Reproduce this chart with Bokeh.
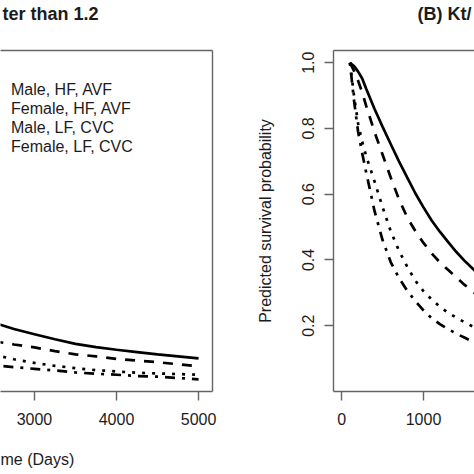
from bokeh.plotting import figure
from bokeh.models import Range1d, LinearAxis, FixedTicker, Legend, LegendItem, Title, Grid
from bokeh.layouts import row
from bokeh.embed import file_html
from bokeh.resources import INLINE

# ---------------- data ----------------
series_labels = ["Male, HF, AVF", "Female, HF, AVF", "Male, LF, CVC", "Female, LF, CVC"]
# only the parts of the titles / x label that are inside the cropped picture
title_a_visible = "ter than 1.2"
title_b_visible = "(B) Kt/"
x_title_a_visible = "me (Days)"
y_title = "Predicted survival probability"

x_ticks = [0, 1000, 2000, 3000, 4000, 5000]
x_tick_labels = ["0", "1000", "2000", "3000", "4000", "5000"]
y_ticks = [0.2, 0.4, 0.6, 0.8, 1.0]
y_tick_labels = ["0.2", "0.4", "0.6", "0.8", "1.0"]

# Panel A (Kt/V > 1.2), visible tail
days_a = [2500, 2750, 3000, 3250, 3500, 3750, 4000, 4250, 4500, 4750, 5000]
a_male_hf_avf = [0.210, 0.190, 0.174, 0.159, 0.145, 0.135, 0.127, 0.120, 0.113, 0.107, 0.101]
a_female_hf_avf = [0.153, 0.143, 0.134, 0.123, 0.113, 0.107, 0.099, 0.094, 0.089, 0.083, 0.077]
a_male_lf_cvc = [0.112, 0.098, 0.087, 0.078, 0.071, 0.065, 0.061, 0.057, 0.055, 0.053, 0.051]
a_female_lf_cvc = [0.080, 0.074, 0.069, 0.064, 0.058, 0.054, 0.051, 0.047, 0.045, 0.041, 0.037]

# Panel B (Kt/V <= 1.2), visible head
days_b = [100, 150, 200, 250, 300, 400, 500, 600, 700, 800, 900, 1000, 1100, 1200, 1300, 1400, 1500, 1600, 1700]
b_male_hf_avf = [1.0, 0.990, 0.973, 0.952, 0.920, 0.860, 0.805, 0.752, 0.700, 0.651, 0.603, 0.560, 0.520, 0.486, 0.455, 0.425, 0.398, 0.374, 0.350]
b_female_hf_avf = [1.0, 0.975, 0.945, 0.910, 0.868, 0.790, 0.720, 0.650, 0.585, 0.530, 0.488, 0.452, 0.420, 0.393, 0.370, 0.348, 0.325, 0.305, 0.285]
b_male_lf_cvc = [1.0, 0.900, 0.815, 0.760, 0.715, 0.640, 0.560, 0.487, 0.428, 0.380, 0.337, 0.305, 0.280, 0.258, 0.240, 0.225, 0.211, 0.198, 0.186]
b_female_lf_cvc = [1.0, 0.885, 0.790, 0.725, 0.665, 0.550, 0.460, 0.393, 0.345, 0.307, 0.275, 0.247, 0.223, 0.205, 0.190, 0.176, 0.164, 0.152, 0.142]

# ---------------- styling ----------------
FONT = "Liberation Sans"
TXT = "#1c1c1c"
BOX = "#646464"
DASHES = ["solid", "10 9", "3 7", "3 7 10 7"]
LW = 2.7

H = 474
Y_RANGE = (0.0, 1.0372)
A_RANGE = (2586, 5170)
B_RANGE = (-101, 1624)
TOP, BOTTOM = 50, 83
TOP_GAP = 27      # empty band between the box and the title
BOTTOM_GAP = 23   # empty band between tick labels and the x label


def make_fig(width, xr, left, right):
    p = figure(width=width, height=H, x_range=Range1d(*xr), y_range=Range1d(*Y_RANGE),
               output_backend="svg", toolbar_location=None,
               x_axis_location=None, y_axis_location=None,
               min_border_left=left, min_border_right=right,
               min_border_top=TOP, min_border_bottom=BOTTOM)
    p.center = [r for r in p.center if not isinstance(r, Grid)]
    p.outline_line_color = None
    p.background_fill_color = "white"
    p.border_fill_color = "white"
    return p


def axis(ticks, labels, vertical=False):
    ax = LinearAxis(ticker=FixedTicker(ticks=ticks, minor_ticks=[]),
                    axis_line_color=BOX, axis_line_width=1.4,
                    major_tick_line_color=BOX, major_tick_line_width=1.4,
                    major_tick_in=0, major_tick_out=9 if ticks else 0,
                    minor_tick_in=0, minor_tick_out=0,
                    major_label_standoff=12 if not vertical else 10,
                    major_label_text_font=FONT, major_label_text_font_size="16px",
                    major_label_text_color=TXT,
                    axis_label_text_font=FONT, axis_label_text_font_size="16px",
                    axis_label_text_font_style="normal", axis_label_text_color=TXT)
    if labels:
        ax.major_label_overrides = dict(zip(ticks, labels))
    if vertical:
        ax.major_label_orientation = "vertical"
    return ax


def spacer_axis(xr, gap, line):
    """Box edge (or invisible band) that reserves `gap` px of border space."""
    mid = (xr[0] + xr[1]) / 2
    ax = LinearAxis(ticker=FixedTicker(ticks=[mid], minor_ticks=[]),
                    axis_line_color=BOX if line else None, axis_line_width=1.4,
                    major_tick_line_color=None, major_tick_in=0, major_tick_out=gap,
                    minor_tick_in=0, minor_tick_out=0,
                    major_label_standoff=0, major_label_text_font_size="0px",
                    major_label_overrides={mid: ""})
    return ax


def plain_axis():
    return axis([], None)


def side_title(text, offset, size, bold, valign):
    return Title(text=text, align="left", offset=offset, standoff=0, vertical_align=valign,
                 text_font=FONT, text_font_size=size,
                 text_font_style="bold" if bold else "normal", text_color=TXT)


# ---------------- panel A ----------------
W1 = 238
p1 = make_fig(W1, A_RANGE, 0, 26)
p1.add_layout(axis(x_ticks, x_tick_labels), "below")
p1.add_layout(spacer_axis(A_RANGE, BOTTOM_GAP, False), "below")
p1.add_layout(side_title(x_title_a_visible, 0, "16px", False, "top"), "below")
p1.add_layout(spacer_axis(A_RANGE, TOP_GAP, True), "above")
p1.add_layout(side_title(title_a_visible, 2, "18px", True, "bottom"), "above")
p1.add_layout(plain_axis(), "right")

series_a = [a_male_hf_avf, a_female_hf_avf, a_male_lf_cvc, a_female_lf_cvc]
rends = []
for ys, dash in zip(series_a, DASHES):
    rends.append(p1.line(days_a, ys, line_color="black", line_width=LW, line_dash=dash))

legend = Legend(items=[LegendItem(label=l, renderers=[r]) for l, r in zip(series_labels, rends)],
                location=(-41, 235), padding=0, margin=0, spacing=0,
                label_height=19, glyph_height=19, glyph_width=40, label_standoff=12,
                label_text_font=FONT, label_text_font_size="16px", label_text_color=TXT,
                background_fill_alpha=0, border_line_color=None)
p1.add_layout(legend)

# ---------------- panel B ----------------
W2 = 236
p2 = make_fig(W2, B_RANGE, 95, 0)
yax = axis(y_ticks, y_tick_labels, vertical=True)
yax.axis_label = y_title
yax.axis_label_standoff = 26
p2.add_layout(yax, "left")
p2.add_layout(axis(x_ticks, x_tick_labels), "below")
p2.add_layout(spacer_axis(B_RANGE, TOP_GAP, True), "above")
p2.add_layout(side_title(title_b_visible, 84, "18px", True, "bottom"), "above")

series_b = [b_male_hf_avf, b_female_hf_avf, b_male_lf_cvc, b_female_lf_cvc]
for ys, dash in zip(series_b, DASHES):
    p2.line(days_b, ys, line_color="black", line_width=LW, line_dash=dash)

layout = row(p1, p2, spacing=0)
open("out.html", "w").write(file_html(layout, INLINE))
